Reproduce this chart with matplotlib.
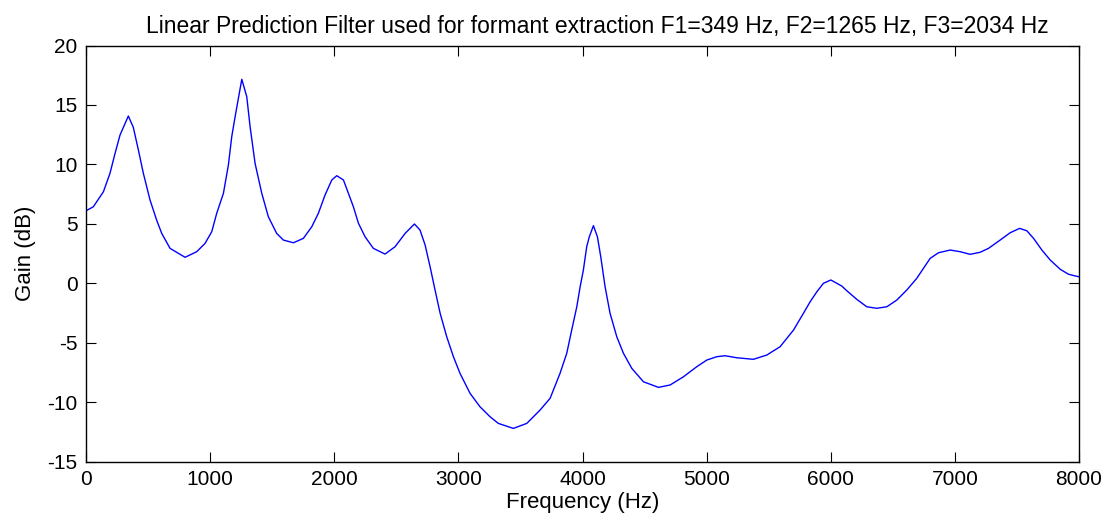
import numpy as np
import matplotlib
matplotlib.use("Agg")
import matplotlib.pyplot as plt

plt.rcParams['font.family'] = ['Liberation Sans', 'DejaVu Sans']
plt.rcParams['axes.unicode_minus'] = False

# LPC filter response (Hz, dB)
freq = [0, 59, 140, 193, 234, 274, 341, 381, 422, 462, 516, 569, 610, 677, 798,
        892, 959, 1013, 1053, 1107, 1147, 1174, 1201, 1255, 1295, 1322, 1362, 1416,
        1469, 1536, 1590, 1671, 1751, 1819, 1872, 1926, 1980, 2020, 2074, 2114,
        2154, 2195, 2248, 2315, 2409, 2490, 2571, 2646, 2691, 2732, 2772, 2812,
        2853, 2906, 2960, 3013, 3094, 3174, 3255, 3322, 3443, 3551, 3658, 3739,
        3819, 3873, 3913, 3954, 3981, 4007, 4034, 4055, 4088, 4120, 4147, 4182,
        4222, 4276, 4330, 4397, 4491, 4612, 4706, 4813, 4921, 5002, 5082, 5149,
        5243, 5377, 5485, 5592, 5700, 5780, 5834, 5888, 5941, 6001, 6089, 6129,
        6210, 6290, 6371, 6452, 6532, 6613, 6693, 6747, 6801, 6868, 6962, 7042,
        7123, 7203, 7271, 7365, 7445, 7521, 7580, 7634, 7701, 7768, 7849, 7916,
        7970, 8000]
gain = [6.1, 6.44, 7.7, 9.25, 10.93, 12.47, 14.07, 13.12, 11.21, 9.25, 7.0, 5.32,
        4.2, 2.94, 2.19, 2.66, 3.36, 4.34, 5.89, 7.57, 9.95, 12.33, 14.0, 17.16,
        15.7, 13.17, 10.09, 7.57, 5.6, 4.2, 3.64, 3.41, 3.78, 4.76, 5.89, 7.43,
        8.69, 9.05, 8.69, 7.57, 6.44, 5.05, 3.92, 2.94, 2.46, 3.08, 4.2, 4.99,
        4.48, 3.22, 1.4, -0.56, -2.52, -4.49, -6.17, -7.57, -9.25, -10.38, -11.22,
        -11.78, -12.2, -11.78, -10.66, -9.67, -7.57, -5.89, -3.93, -1.97, -0.29,
        1.12, 3.08, 3.92, 4.85, 3.92, 2.24, -0.29, -2.52, -4.49, -5.89, -7.15,
        -8.28, -8.75, -8.55, -7.86, -7.01, -6.45, -6.17, -6.09, -6.26, -6.39,
        -6.03, -5.33, -3.93, -2.52, -1.55, -0.71, 0.0, 0.28, -0.23, -0.62, -1.35,
        -1.97, -2.1, -1.97, -1.41, -0.56, 0.42, 1.26, 2.1, 2.57, 2.8, 2.66, 2.44,
        2.61, 2.94, 3.64, 4.25, 4.62, 4.42, 3.78, 2.8, 1.96, 1.18, 0.76, 0.62, 0.55]

xticks = [0, 1000, 2000, 3000, 4000, 5000, 6000, 7000, 8000]
yticks = [-15, -10, -5, 0, 5, 10, 15, 20]

fig = plt.figure(figsize=(11.07, 5.28), dpi=100)
ax = fig.add_axes([0.0777, 0.1256, 0.897, 0.7882])
ax.plot(freq, gain, color='#0000ff', linewidth=1.0)

ax.set_xlim(0, 8000)
ax.set_ylim(-15, 20)
ax.set_xticks(xticks)
ax.set_yticks(yticks)
ax.tick_params(direction='in', length=7, width=0.8, labelsize=15,
               top=True, right=True, pad=6)
for s in ax.spines.values():
    s.set_linewidth(1.0)

ax.set_xlabel("Frequency (Hz)", fontsize=16, labelpad=2)
ax.set_ylabel("Gain (dB)", fontsize=16, labelpad=8)
ax.set_title("Linear Prediction Filter used for formant extraction F1=349 Hz, F2=1265 Hz, F3=2034 Hz",
             fontsize=16.5, pad=9, x=0.515)

fig.savefig("out.png", dpi=100)
